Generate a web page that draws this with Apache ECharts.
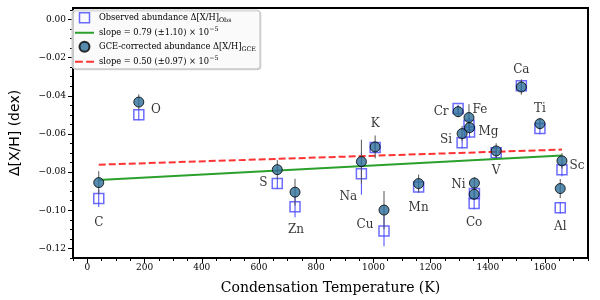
<!DOCTYPE html>
<html><head><meta charset="utf-8">
<script src="https://cdn.jsdelivr.net/npm/echarts@6/dist/echarts.min.js"></script>
<style>html,body{margin:0;padding:0;background:#fff}#c{width:600px;height:300px}</style>
</head><body><div id="c"></div>
<script>
// ---- data ----
const elements  = ['C','O','S','Zn','Na','K','Cu','Mn','Cr','Si','Fe','Mg','Co','Ni','V','Ca','Ti','Al','Sc'];
const condTemp  = [40,180,664,726,958,1006,1037,1158,1296,1310,1334,1336,1352,1353,1429,1517,1582,1653,1659];
const gceAbund  = [-0.0855,-0.0433,-0.0787,-0.0905,-0.0745,-0.0668,-0.0999,-0.0860,-0.0483,-0.0598,-0.0514,-0.0567,-0.0916,-0.0857,-0.0689,-0.0354,-0.0546,-0.0886,-0.0741];
const gceErr    = [0.0060,0.0040,0.0050,0.0070,0.0115,0.0060,0.0100,0.0047,0.0030,0.0040,0.0070,0.0030,0.0030,0.0030,0.0040,0.0040,0.0030,0.0050,0.0040];
const obsAbund  = [-0.0938,-0.0499,-0.0859,-0.0982,-0.0808,-0.0671,-0.1109,-0.0878,-0.0467,-0.0646,-0.0555,-0.0590,-0.0965,-0.0912,-0.0698,-0.0347,-0.0572,-0.0987,-0.0787];
const obsErr    = [0.0045,0.0030,0.0030,0.0055,0.0110,0.0030,0.0080,0.0030,0.0020,0.0030,0.0040,0.0030,0.0030,0.0030,0.0030,0.0030,0.0030,0.0030,0.0035];
const obsFitT   = [40, 1659];
const obsFitY   = [-0.0841, -0.0713];
const gceFitT   = [40, 1659];
const gceFitY   = [-0.0761, -0.0682];
const xMajorTicks = [0,200,400,600,800,1000,1200,1400,1600];
const xMinorTicks = [-50,0,50,100,150,200,250,300,350,400,450,500,550,600,650,700,750,800,850,900,950,1000,1050,1100,1150,1200,1250,1300,1350,1400,1450,1500,1550,1600,1650,1700,1750];
const yMajorTicks = [0,-0.02,-0.04,-0.06,-0.08,-0.10,-0.12];
const yMinorTicks = [0.005,0,-0.005,-0.01,-0.015,-0.02,-0.025,-0.03,-0.035,-0.04,-0.045,-0.05,-0.055,-0.06,-0.065,-0.07,-0.075,-0.08,-0.085,-0.09,-0.095,-0.1,-0.105,-0.11,-0.115,-0.12,-0.125];

// ---- styles ----
const labelOffset = {C:[0,40],O:[17,8],S:[-14,13],Zn:[1,38],Na:[-13,35],K:[0,-23],Cu:[-19,15],Mn:[0,24],
  Si:[-16,6],Cr:[-17,0],Fe:[11,-8],Mg:[19,4],Ni:[-16,2],Co:[0,29],V:[0,20],Ca:[0,-17],Ti:[0,-15],Sc:[15,5],Al:[0,38]};
const SERIF = 'DejaVu Serif';
const OBS_BLUE = '#4747ff';
const CIRCLE_FILL = '#2e6f9a';
const GREEN = '#2ca02c';
const RED = '#ff3333';

function errRender(color) {
  return function (params, api) {
    const x = api.value(0), y = api.value(1), e = api.value(2);
    const p1 = api.coord([x, y - e]), p2 = api.coord([x, y + e]);
    return {type:'line', shape:{x1:p1[0], y1:p1[1], x2:p2[0], y2:p2[1]}, style:{stroke:color, lineWidth:1}};
  };
}

const obsErrData = condTemp.map((t,i)=>[t, obsAbund[i], obsErr[i]]);
const gceErrData = condTemp.map((t,i)=>[t, gceAbund[i], gceErr[i]]);
const obsData = condTemp.map((t,i)=>[t, obsAbund[i]]);
const gceData = condTemp.map((t,i)=>({
  value:[t, gceAbund[i]], name: elements[i],
  label:{show:true, position:'inside', offset: labelOffset[elements[i]], formatter: elements[i]}
}));

const fmtY = v => (Math.abs(v) < 1e-9 ? '0.00' : v.toFixed(2).replace('-', '\u2212'));
const fmtX = v => String(Math.round(v));

const chart = echarts.init(document.getElementById('c'), null, {renderer:'canvas'});
chart.setOption({
  animation:false,
  backgroundColor:'#fff',
  grid:{left:69, right:12, top:8, bottom:42, show:true, borderColor:'#000', borderWidth:2, backgroundColor:'transparent'},
  xAxis:[{
    type:'value', position:'bottom', min:-50, max:1750, interval:50,
    name:'Condensation Temperature (K)', nameLocation:'middle', nameGap:23,
    nameTextStyle:{fontFamily:SERIF, fontSize:14, color:'#000'},
    axisLine:{show:false, onZero:false}, splitLine:{show:false},
    axisTick:{show:true, length:5, customValues:xMajorTicks, lineStyle:{color:'#000', width:1}},
    axisLabel:{show:true, customValues:xMajorTicks, margin:5, fontFamily:SERIF, fontSize:9, color:'#000', formatter:fmtX}
  },{
    type:'value', position:'bottom', min:-50, max:1750, interval:50,
    axisLine:{show:false, onZero:false}, splitLine:{show:false},
    axisTick:{show:true, length:3, customValues:xMinorTicks, lineStyle:{color:'#000', width:1}},
    axisLabel:{show:false}
  }],
  yAxis:[{
    type:'value', position:'left', min:-0.125, max:0.006, interval:0.005,
    name:'\u0394[X/H] (dex)', nameLocation:'middle', nameGap:51, nameRotate:90,
    nameTextStyle:{fontFamily:'DejaVu Sans', fontSize:14, color:'#000'},
    axisLine:{show:false, onZero:false}, splitLine:{show:false},
    axisTick:{show:true, length:5, customValues:yMajorTicks, lineStyle:{color:'#000', width:1}},
    axisLabel:{show:true, customValues:yMajorTicks, margin:7, fontFamily:SERIF, fontSize:9, color:'#000', formatter:fmtY}
  },{
    type:'value', position:'left', min:-0.125, max:0.006, interval:0.005,
    axisLine:{show:false, onZero:false}, splitLine:{show:false},
    axisTick:{show:true, length:3, customValues:yMinorTicks, lineStyle:{color:'#000', width:1}},
    axisLabel:{show:false}
  }],
  legend:{
    orient:'vertical', left:72, top:10, padding:[2,4,2,3], itemGap:3, itemWidth:19, itemHeight:10,
    symbolKeepAspect:true,
    borderColor:'#cccccc', borderWidth:1, borderRadius:3, backgroundColor:'rgba(255,255,255,0.85)',
    shadowColor:'rgba(0,0,0,0.15)', shadowOffsetX:1, shadowOffsetY:1, shadowBlur:0,
    data:[
      {name:'obs', icon:'path://M0,0H10V10H0Z', itemStyle:{color:'transparent', borderColor:OBS_BLUE, borderWidth:1.5}},
      {name:'obsFit', icon:'path://M0,4H19V6H0Z', itemStyle:{color:GREEN, borderWidth:0}},
      {name:'gce', icon:'circle'},
      {name:'gceFit', icon:'path://M0,4H7V6H0ZM10,4H17V6H10Z', itemStyle:{color:RED, borderWidth:0}}
    ],
    textStyle:{fontFamily:SERIF, fontSize:8.3, color:'#000',
      rich:{
        b:{fontFamily:SERIF, fontSize:8.3, lineHeight:12, color:'#000'},
        sub:{fontFamily:SERIF, fontSize:6.3, lineHeight:12, verticalAlign:'bottom', color:'#000', padding:[5,0,0,0]},
        sup:{fontFamily:SERIF, fontSize:6.3, lineHeight:12, verticalAlign:'top', color:'#000', padding:[0,0,5,0]}
      }},
    formatter: function(name){
      if (name==='obs') return '{b|Observed abundance \u0394[X/H]}{sub|Obs}';
      if (name==='obsFit') return '{b|slope = 0.79 (\u00b11.10) \u00d7 10}{sup|\u22125}';
      if (name==='gce') return '{b|GCE-corrected abundance \u0394[X/H]}{sub|GCE}';
      return '{b|slope = 0.50 (\u00b10.97) \u00d7 10}{sup|\u22125}';
    }
  },
  series:[
    {type:'custom', name:'obsErrBar', renderItem:errRender(OBS_BLUE), data:obsErrData, encode:{x:0,y:1}, z:2, silent:true},
    {type:'scatter', name:'obs', data:obsData, symbol:'rect', symbolSize:10,
     itemStyle:{color:'transparent', borderColor:OBS_BLUE, borderWidth:1.5}, z:3},
    {type:'line', name:'obsFit', data:obsFitT.map((t,i)=>[t,obsFitY[i]]), symbol:'none',
     itemStyle:{color:GREEN}, lineStyle:{color:GREEN, width:2}, z:4},
    {type:'line', name:'gceFit', data:gceFitT.map((t,i)=>[t,gceFitY[i]]), symbol:'none',
     itemStyle:{color:RED}, lineStyle:{color:RED, width:2, type:[7,3]}, z:4},
    {type:'custom', name:'gceErrBar', renderItem:errRender('#555555'), data:gceErrData, encode:{x:0,y:1}, z:5, silent:true},
    {type:'scatter', name:'gce', data:gceData, symbol:'circle', symbolSize:10,
     itemStyle:{color:CIRCLE_FILL, borderColor:'#000', borderWidth:1},
     label:{fontFamily:SERIF, fontSize:12, color:'#000'}, z:6}
  ]
});
</script></body></html>
